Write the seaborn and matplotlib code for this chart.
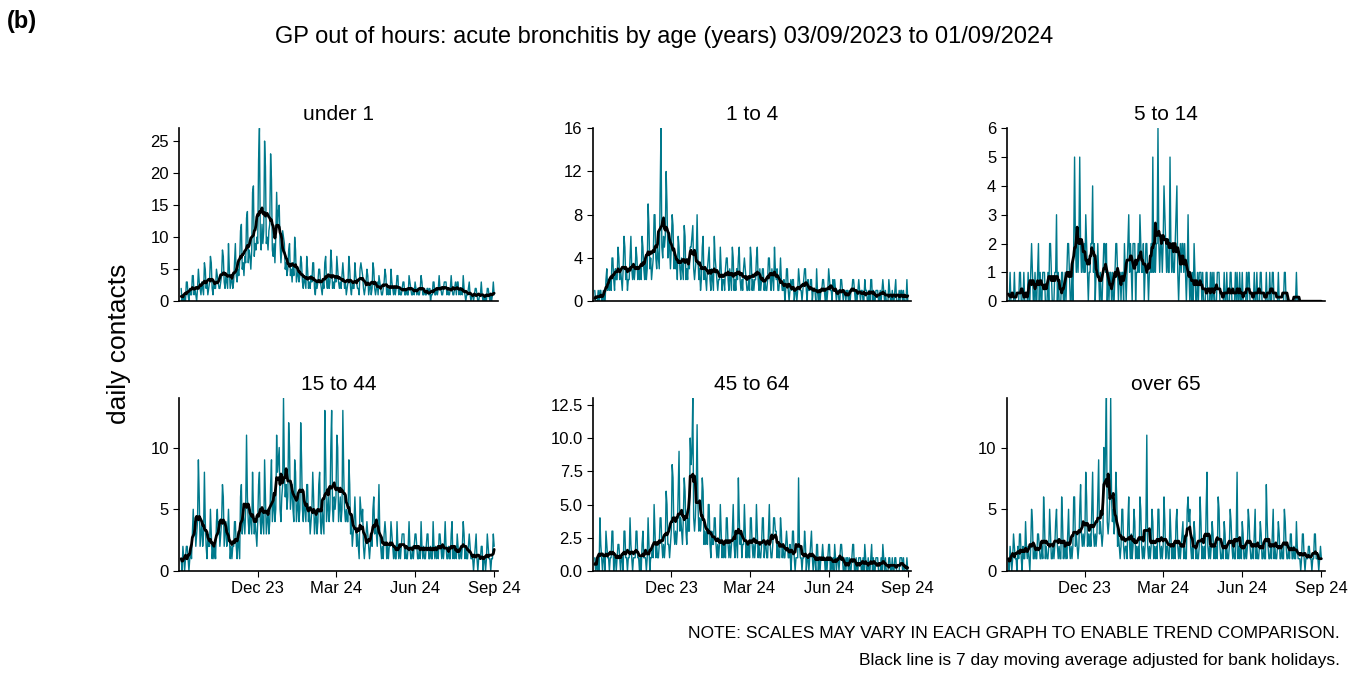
import numpy as np
import pandas as pd
import matplotlib
matplotlib.use('Agg')
import matplotlib.pyplot as plt
import seaborn as sns

# daily contacts, one string per week (Sun..Sat), starting Sun 03/09/2023
under1 = """2 0 1 0 1 0 3|3 1 0 2 1 1 4|4 1 2 1 0 2 5|3 2 1 3 2 1 6|5 2 3 1 2 3 7|6 2 1 3 2 2 5|4 3 2 2 3 4 8|7 3 2 4 3 2 9|5 2 3 4 2 3 6|9 4 3 5 4 6 11|12 5 6 4 7 6 13|14 6 8 7 5 8 17|18 7 9 8 10 9 22|27 10 8 12 9 11 25|21 9 10 8 11 12 23|19 8 7 9 6 10 17|12 14 15 9 6 8 11|10 9 5 6 4 5 8|9 4 5 3 6 4 10|8 3 4 5 3 4 7|6 3 2 4 3 2 7|5 2 3 2 4 3 6|6 2 1 3 2 3 5|5 3 2 1 3 2 6|7 3 2 4 2 3 8|6 2 3 2 4 3 7|5 3 2 3 2 4 6|4 2 3 1 2 3 7|5 2 1 3 2 2 6|4 3 2 2 1 5 6|5 4 2 1 2 3 5|4 1 2 3 1 2 6|5 2 1 2 3 1 4|3 2 1 1 2 3 5|4 1 2 1 2 1 5|3 2 1 2 1 2 4|4 1 2 1 1 2 3|3 1 1 2 1 1 4|3 2 1 1 2 1 3|2 1 2 1 1 2 4|3 1 1 2 1 1 2|2 1 2 0 1 1 3|3 1 1 2 1 2 4|2 2 1 1 2 3 3|3 1 2 1 1 2 4|2 1 1 2 3 1 3|3 1 2 1 2 1 4|2 1 0 1 1 2 3|1 0 1 1 0 1 2|2 1 0 0 1 1 3|1 0 1 0 1 0 2|2 1 0 1 0 1 3|1"""
age1to4 = """1 0 0 0 1 0 1|1 0 0 1 0 0 2|3 1 2 1 2 1 4|4 2 1 3 2 2 5|4 2 3 2 1 3 6|5 2 3 1 2 2 4|6 3 2 3 2 3 5|4 2 3 2 3 2 6|5 3 2 4 2 3 9|7 3 4 2 3 4 8|8 4 3 5 4 3 10|16 5 4 6 5 6 12|9 4 6 5 3 5 8|7 3 4 3 4 2 6|5 3 2 4 3 2 7|6 2 3 2 4 3 5|5 6 7 3 2 3 4|8 4 2 3 1 2 5|6 2 3 2 1 3 4|5 2 1 3 2 1 6|4 3 2 1 2 2 5|3 1 2 2 1 3 4|4 2 1 3 2 1 5|4 1 2 1 3 2 4|5 2 1 2 1 3 4|3 2 1 1 2 1 5|4 1 2 1 2 2 4|5 2 1 3 1 2 3|3 1 2 1 1 2 4|4 2 1 3 2 1 5|3 2 3 1 1 2 4|2 1 1 2 0 1 3|3 1 0 1 2 1 2|2 0 1 1 0 1 3|2 1 1 0 1 2 3|3 1 0 2 1 1 2|2 0 1 1 1 0 3|1 0 1 0 1 1 2|2 1 0 1 0 1 3|2 1 1 0 2 1 2|1 0 1 1 0 0 2|2 1 0 1 1 0 1|1 0 1 0 1 1 2|2 1 0 1 0 1 2|1 0 1 1 0 0 2|1 1 0 0 1 0 2|2 0 1 0 0 1 1|1 0 0 1 0 1 2|1 0 1 0 0 0 2|1 0 0 1 0 0 1|2 0 0 0 1 0 1|1 0 1 0 0 0 2|0"""
age5to14 = """0 0 1 0 0 0 0|1 0 0 0 0 0 1|1 0 0 0 1 0 0|0 0 1 0 0 1 2|1 0 0 1 0 0 1|2 0 1 0 0 1 1|1 0 0 0 1 0 2|2 1 0 0 0 1 1|3 0 1 0 0 0 1|1 0 0 1 0 1 2|2 1 0 0 1 0 2|5 2 1 2 1 2 5|2 1 2 1 2 1 3|2 1 0 1 1 2 2|4 1 2 0 1 1 2|1 0 1 0 0 1 2|2 1 2 0 1 0 1|1 0 1 0 0 1 2|2 1 0 1 1 0 1|1 0 2 1 0 1 2|3 1 2 1 0 2 2|2 0 1 1 2 1 3|2 1 1 2 0 1 2|2 1 0 1 1 2 1|5 1 2 1 2 2 6|2 1 2 2 1 2 4|3 2 1 2 1 1 5|2 1 2 1 1 2 3|4 1 0 1 2 1 2|2 1 2 1 0 1 3|1 0 1 0 1 0 2|1 0 0 1 0 1 1|1 0 1 0 0 0 1|1 0 0 0 1 0 1|0 1 0 0 0 1 1|1 0 0 0 0 0 1|0 0 1 0 0 0 1|1 0 0 0 0 1 0|1 0 0 1 0 0 1|0 0 0 0 1 0 1|1 0 0 0 0 0 1|0 0 1 0 0 0 1|1 0 0 0 0 0 1|0 0 0 1 0 0 1|1 0 0 0 0 0 1|0 0 0 0 0 0 1|1 0 0 0 0 0 0|0 0 0 0 0 0 1|0 0 0 0 0 0 0|0 0 0 0 0 0 0|0 0 0 0 0 0 0|0 0 0 0 0 0 0|0"""
age15to44 = """1 0 2 1 0 1 2|2 1 0 1 2 1 3|5 3 4 2 3 4 9|6 2 3 4 2 3 8|4 2 1 3 2 2 5|3 1 2 1 2 1 4|5 3 4 2 3 4 7|6 2 3 4 2 3 5|3 1 2 1 2 2 4|4 2 1 3 2 1 6|7 3 5 4 3 5 11|6 4 3 5 4 3 8|5 3 4 3 2 4 7|8 4 3 5 4 3 9|6 3 4 5 3 4 7|9 4 5 6 4 5 11|8 9 10 5 4 6 7|14 8 6 7 5 6 12|10 5 6 7 5 4 9|8 4 5 6 4 5 12|9 5 4 6 5 4 7|7 4 5 3 4 5 8|6 3 4 5 3 4 7|8 4 3 5 4 3 13|9 4 5 6 4 5 10|13 5 4 6 5 6 11|10 4 5 6 4 5 13|8 5 4 5 4 4 9|7 3 4 2 3 4 6|4 2 3 2 1 6 5|4 5 2 1 2 3 4|3 2 1 2 3 2 5|6 3 4 3 2 4 7|3 2 1 2 1 3 4|3 1 2 1 2 2 4|3 2 1 2 1 1 4|2 1 2 1 2 3 3|3 1 2 1 1 2 4|2 1 1 2 1 2 3|3 2 1 1 2 1 4|2 1 2 1 1 2 3|3 1 1 2 1 1 4|2 1 2 1 2 1 3|3 2 1 2 1 2 4|2 1 1 2 1 1 3|4 1 2 1 2 1 3|2 1 1 2 1 2 4|3 1 2 1 1 2 3|2 1 1 1 0 1 2|3 1 0 1 1 1 2|2 0 1 1 0 1 3|2 1 1 0 1 1 3|2"""
age45to64 = """1 0 1 0 1 0 4|2 1 0 1 1 0 3|2 1 1 0 1 1 3|3 0 1 1 0 1 2|2 1 0 1 1 0 3|3 1 1 0 1 1 4|2 1 0 1 1 1 3|3 1 1 0 1 0 2|3 1 1 1 0 1 4|2 0 1 1 2 1 5|3 1 2 1 1 2 4|4 2 1 2 1 2 6|5 2 2 1 2 3 8|7 3 2 3 2 3 6|9 3 4 3 2 4 7|6 3 2 4 3 3 10|8 9 13 4 3 4 6|11 5 3 4 3 4 7|6 2 3 2 3 2 5|5 2 1 3 2 2 4|4 2 1 2 1 2 5|3 1 2 1 2 1 4|4 2 1 2 1 2 3|5 2 1 3 2 1 7|4 2 3 1 2 2 5|3 1 2 1 2 1 4|4 2 1 2 1 2 5|3 1 2 1 1 2 4|4 1 2 2 1 1 3|5 2 1 1 2 4 4|3 3 1 2 1 1 4|3 1 2 1 1 2 3|2 1 1 2 0 1 3|3 1 0 1 1 1 7|2 1 1 0 1 1 3|2 0 1 1 0 1 2|3 1 0 1 1 0 2|2 0 1 0 1 1 2|1 1 0 1 0 1 2|2 0 1 0 1 0 2|1 0 1 1 0 1 2|2 1 0 0 1 0 1|1 0 1 0 0 1 2|2 0 0 1 0 0 1|1 1 0 0 1 0 2|1 0 0 1 0 0 1|2 0 1 0 0 1 1|1 0 0 0 1 0 2|1 0 1 0 0 0 1|1 0 0 1 0 0 1|1 0 0 0 0 1 1|1 0 1 0 0 0 1|0"""
over65 = """1 0 2 1 0 1 3|2 1 1 0 2 1 3|3 1 0 2 1 1 4|2 1 2 1 0 2 5|4 1 1 2 1 1 3|3 2 1 1 2 1 6|4 1 2 1 1 2 5|3 1 1 2 1 2 4|5 2 1 2 1 1 6|4 1 2 1 2 1 3|5 2 1 2 1 2 6|6 2 3 2 1 2 5|7 3 2 3 2 3 8|6 2 3 2 3 2 5|8 3 2 3 2 3 6|9 3 4 3 2 3 10|7 10 14 4 3 4 6|14 6 4 5 3 4 8|6 2 3 2 1 2 5|5 2 1 2 2 1 4|6 2 1 3 1 2 5|4 1 2 1 2 1 6|5 2 1 2 1 2 4|11 2 1 2 1 2 5|4 1 2 1 2 1 5|5 2 1 2 1 2 6|4 1 2 2 1 1 5|3 1 2 1 2 1 4|5 2 1 2 1 2 3|4 1 2 1 1 5 6|4 5 2 1 2 1 4|3 1 2 1 1 2 6|4 1 2 1 2 1 5|8 2 1 2 1 2 4|3 1 2 1 2 1 6|5 2 1 1 2 1 4|3 1 2 1 1 2 5|4 2 1 2 1 1 3|8 1 2 1 2 1 4|3 1 1 2 1 2 5|4 2 1 1 2 1 3|5 1 2 1 1 2 4|3 1 1 2 1 1 7|4 2 1 1 2 1 3|5 1 2 1 1 2 4|3 1 1 2 1 1 5|4 2 1 1 2 1 3|3 1 1 2 1 1 4|2 1 1 1 0 1 3|3 1 0 1 1 1 2|2 1 1 0 1 1 3|3 1 1 1 0 1 2|1"""

panels = ['under 1', '1 to 4', '5 to 14', '15 to 44', '45 to 64', 'over 65']
series = [under1, age1to4, age5to14, age15to44, age45to64, over65]
yticks = [[0, 5, 10, 15, 20, 25], [0, 4, 8, 12, 16], [0, 1, 2, 3, 4, 5, 6],
          [0, 5, 10], [0, 2.5, 5, 7.5, 10, 12.5], [0, 5, 10]]
ylims = [27, 16, 6, 14, 13, 14]
ytlabels = [None, None, None, None, ['0.0', '2.5', '5.0', '7.5', '10.0', '12.5'], None]

sns.set_style('white')
plt.rcParams['font.family'] = ['Liberation Sans', 'DejaVu Sans']
plt.rcParams['text.color'] = 'black'
plt.rcParams['xtick.color'] = 'black'
plt.rcParams['ytick.color'] = 'black'

fig, axes = plt.subplots(2, 3, figsize=(13.7, 6.75), dpi=100)
fig.subplots_adjust(left=0.131, right=0.967, top=0.81, bottom=0.154, wspace=0.3, hspace=0.56)

teal = '#00798c'
for i, (ax, name, s, yt, yl, ytl) in enumerate(zip(axes.flat, panels, series, yticks, ylims, ytlabels)):
    vals = [int(v) for v in s.replace('|', ' ').split()]
    df = pd.DataFrame({'date': pd.date_range('2023-09-03', periods=len(vals), freq='D'),
                       'count': vals})
    df['ma'] = df['count'].rolling(7, center=True, min_periods=1).mean()
    sns.lineplot(data=df, x='date', y='count', ax=ax, color=teal, lw=1.0)
    sns.lineplot(data=df, x='date', y='ma', ax=ax, color='black', lw=2)
    ax.set_title(name, fontsize=15, pad=6, color='black')
    ax.set_xlabel('')
    ax.set_ylabel('')
    ax.set_ylim(0, yl)
    ax.set_yticks(yt)
    if ytl:
        ax.set_yticklabels(ytl)
    ax.set_xlim(pd.Timestamp('2023-09-01'), pd.Timestamp('2024-09-05'))
    ticks = pd.to_datetime(['2023-12-01', '2024-03-01', '2024-06-01', '2024-09-01'])
    ax.set_xticks(ticks)
    ax.tick_params(axis='both', labelsize=12, direction='out', length=4, color='black',
                   left=True, bottom=True)
    if i < 3:
        ax.set_xticklabels([])
        ax.tick_params(axis='x', length=0)
    else:
        ax.set_xticklabels(['Dec 23', 'Mar 24', 'Jun 24', 'Sep 24'])
    for sp in ['top', 'right']:
        ax.spines[sp].set_visible(False)
    for sp in ['left', 'bottom']:
        ax.spines[sp].set_color('black')
        ax.spines[sp].set_linewidth(1.2)

fig.text(0.005, 0.985, '(b)', fontsize=17, fontweight='bold', va='top')
fig.text(0.485, 0.945, 'GP out of hours: acute bronchitis by age (years) 03/09/2023 to 01/09/2024',
         fontsize=17, ha='center', va='center')
fig.text(0.087, 0.49, 'daily contacts', fontsize=19, rotation=90, ha='center', va='center')
fig.text(0.978, 0.062, 'NOTE: SCALES MAY VARY IN EACH GRAPH TO ENABLE TREND COMPARISON.',
         fontsize=12.5, ha='right', va='center')
fig.text(0.978, 0.022, 'Black line is 7 day moving average adjusted for bank holidays.',
         fontsize=12.5, ha='right', va='center')

fig.savefig('out.png', dpi=100)
